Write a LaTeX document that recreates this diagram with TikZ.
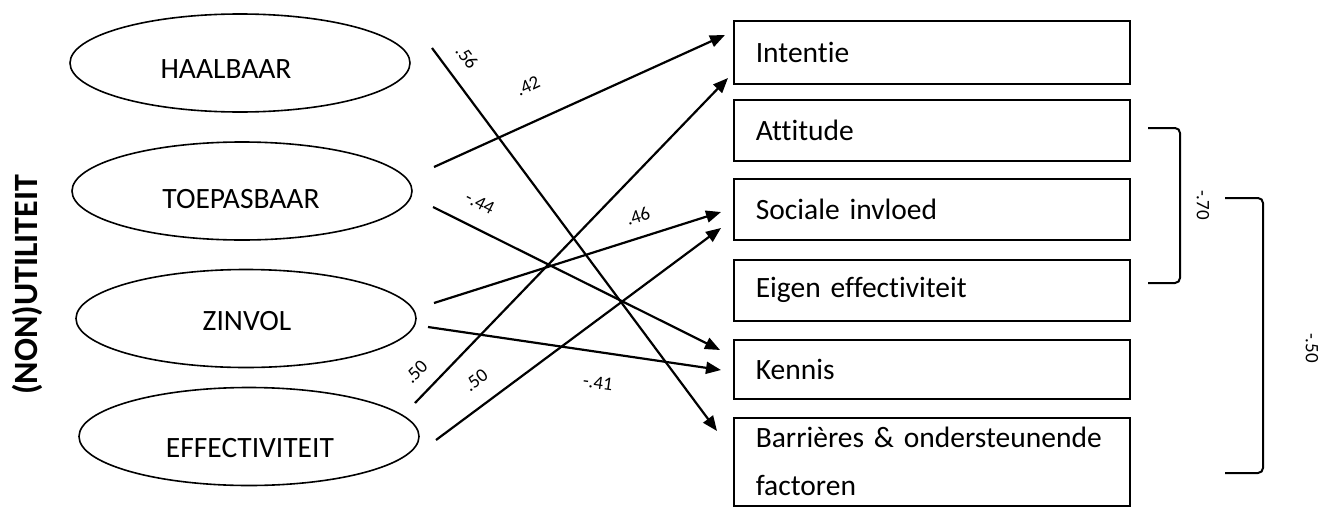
\documentclass[tikz,border=0pt]{standalone}
\usepackage{fontspec}
\setmainfont{Carlito}[Ligatures={NoCommon,NoContextual}]
\usetikzlibrary{arrows.meta,shapes.geometric}
\begin{document}
\begin{tikzpicture}[x=1pt,y=-1pt,
  ell/.style={draw,line width=1.6pt,ellipse,inner sep=0pt,minimum width=340pt,minimum height=98pt},
  elltext/.style={anchor=base,font=\fontsize{29.5}{34}\selectfont},
  boxnode/.style={draw,line width=1.6pt,rectangle,anchor=north west,inner xsep=22pt,inner ysep=0pt,
     text width=352pt,align=left,font=\fontsize{29.5}{48}\selectfont},
  arr/.style={line width=2.2pt,-{Triangle[length=15pt,width=12pt]}},
  lbl/.style={font=\fontsize{19}{22}\selectfont,inner sep=0pt},
  brk/.style={line width=2pt,rounded corners=5pt}]
\useasboundingbox (0,0) rectangle (1330,506);

% title
\node[rotate=90,font=\fontsize{34}{38}\selectfont\bfseries] (title) at (27,285) {(NON)UTILITEIT};

% ellipses
\node[ell] (haal) at (240,63) {};
\node[ell] (toep) at (242,191) {};
\node[ell] (zinv) at (246,318.5) {};
\node[ell] (effe) at (249,436.5) {};
\node[elltext] (haalt) at (226,78) {HAALBAAR};
\node[elltext] (toept) at (241,208) {TOEPASBAAR};
\node[elltext] (zinvt) at (247,330) {ZINVOL};
\node[elltext] (effet) at (250,457) {EFFECTIVITEIT};

% boxes
\node[boxnode,minimum height=63pt] (int) at (733,20) {Intentie};
\node[boxnode,minimum height=61pt] (att) at (733,99) {Attitude};
\node[boxnode,minimum height=61pt] (soc) at (733,178) {Sociale invloed};
\node[boxnode,minimum height=61pt] (eig) at (733,259) {Eigen effectiviteit};
\node[boxnode,minimum height=59pt] (ken) at (733,339) {Kennis};
\node[boxnode,minimum height=88pt] (bar) at (733,417) {Barrières \& ondersteunende\\factoren};

% connector end points
\coordinate (hs) at (432,48);   \coordinate (he) at (717,431);
\coordinate (ts1) at (434,167); \coordinate (te1) at (725,35);
\coordinate (ts2) at (433,207); \coordinate (te2) at (720,350);
\coordinate (zs1) at (434,303); \coordinate (ze1) at (721,212);
\coordinate (zs2) at (428,327); \coordinate (ze2) at (721,370);
\coordinate (fs1) at (415,403); \coordinate (fe1) at (728,78);
\coordinate (fs2) at (436,440); \coordinate (fe2) at (721,228);

\draw[arr] (hs) -- (he);
\draw[arr] (ts1) -- (te1);
\draw[arr] (ts2) -- (te2);
\draw[arr] (zs1) -- (ze1);
\draw[arr] (zs2) -- (ze2);
\draw[arr] (fs1) -- (fe1);
\draw[arr] (fs2) -- (fe2);

% labels
\node[lbl,rotate=-53] (l56) at (467,57) {.56};
\node[lbl,rotate=25] (l42) at (528,86) {.42};
\node[lbl,rotate=-27] (l44) at (480,203) {-.44};
\node[lbl,rotate=18] (l46) at (638,216) {.46};
\node[lbl,rotate=46] (l50a) at (416,372) {.50};
\node[lbl,rotate=37] (l50b) at (476,380) {.50};
\node[lbl,rotate=-8] (l41) at (598,383) {-.41};

% brackets
\coordinate (b1a) at (1148,128); \coordinate (b1b) at (1180,128);
\coordinate (b1c) at (1180,283); \coordinate (b1d) at (1148,283);
\draw[brk] (b1a) -- (b1b) -- (b1c) -- (b1d);
\coordinate (b2a) at (1225,198); \coordinate (b2b) at (1263,198);
\coordinate (b2c) at (1263,473); \coordinate (b2d) at (1225,473);
\draw[brk] (b2a) -- (b2b) -- (b2c) -- (b2d);
\node[lbl,rotate=-90] (l70) at (1203,205) {-.70};
\node[lbl,rotate=-90] (l50c) at (1312,348) {-.50};
\end{tikzpicture}
\end{document}
